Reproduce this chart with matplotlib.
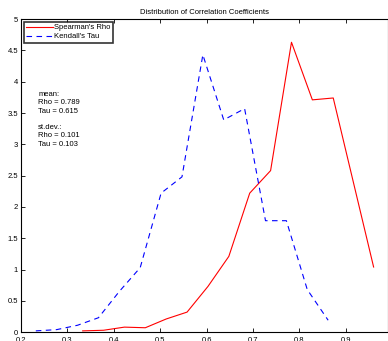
import matplotlib
matplotlib.use("Agg")
import matplotlib.pyplot as plt

# values
rho_x = [0.333, 0.378, 0.423, 0.468, 0.513, 0.558, 0.603, 0.648, 0.693, 0.738, 0.783, 0.828, 0.873, 0.960]
rho_y = [0.02, 0.03, 0.08, 0.07, 0.21, 0.32, 0.73, 1.21, 2.22, 2.58, 4.63, 3.71, 3.74, 1.04]

tau_x = [0.232, 0.277, 0.322, 0.367, 0.412, 0.457, 0.502, 0.547, 0.592, 0.637, 0.682, 0.727, 0.772, 0.817, 0.862]
tau_y = [0.02, 0.04, 0.11, 0.23, 0.65, 1.03, 2.22, 2.48, 4.43, 3.39, 3.57, 1.78, 1.78, 0.68, 0.19]

xticks = [0.2, 0.3, 0.4, 0.5, 0.6, 0.7, 0.8, 0.9]
yticks = [0, 0.5, 1, 1.5, 2, 2.5, 3, 3.5, 4, 4.5, 5]
ytick_labels = ["0", "0.5", "1", "1.5", "2", "2.5", "3", "3.5", "4", "4.5", "5"]

stats_text = "mean:\nRho = 0.789\nTau = 0.615\n\nst.dev.:\nRho = 0.101\nTau = 0.103"

plt.rcParams['font.family'] = ['Liberation Sans', 'DejaVu Sans']
plt.rcParams['font.size'] = 5.5

fig = plt.figure(figsize=(3.88, 3.41), dpi=100)
ax = fig.add_axes([0.054, 0.026, 0.946, 0.918])

ax.plot(rho_x, rho_y, color='red', lw=0.8, label="Spearman's Rho")
ax.plot(tau_x, tau_y, color='blue', lw=0.8, ls=(0, (5, 4)), label="Kendall's Tau")

ax.set_xlim(0.2, 0.991)
ax.set_ylim(0, 5)
ax.set_xticks(xticks)
ax.set_yticks(yticks)
ax.set_yticklabels(ytick_labels)
ax.tick_params(direction='in', length=3, width=0.6, top=True, labelsize=5.5, pad=2)
ax.tick_params(axis='x', pad=3.5)
for s in ax.spines.values():
    s.set_linewidth(0.8)

ax.set_title("Distribution of Correlation Coefficients", fontsize=5.5, pad=4)

ax.text(0.237, 3.85, stats_text, fontsize=5.5, va='top', ha='left', linespacing=1.25)

leg = ax.legend(loc='upper left', fontsize=5.5, frameon=True, fancybox=False,
                borderaxespad=0.35, handlelength=3.5, handletextpad=0.2,
                borderpad=0.3, labelspacing=0.2)
leg.get_frame().set_edgecolor('black')
leg.get_frame().set_linewidth(1.2)

fig.savefig("out.png", dpi=100)
